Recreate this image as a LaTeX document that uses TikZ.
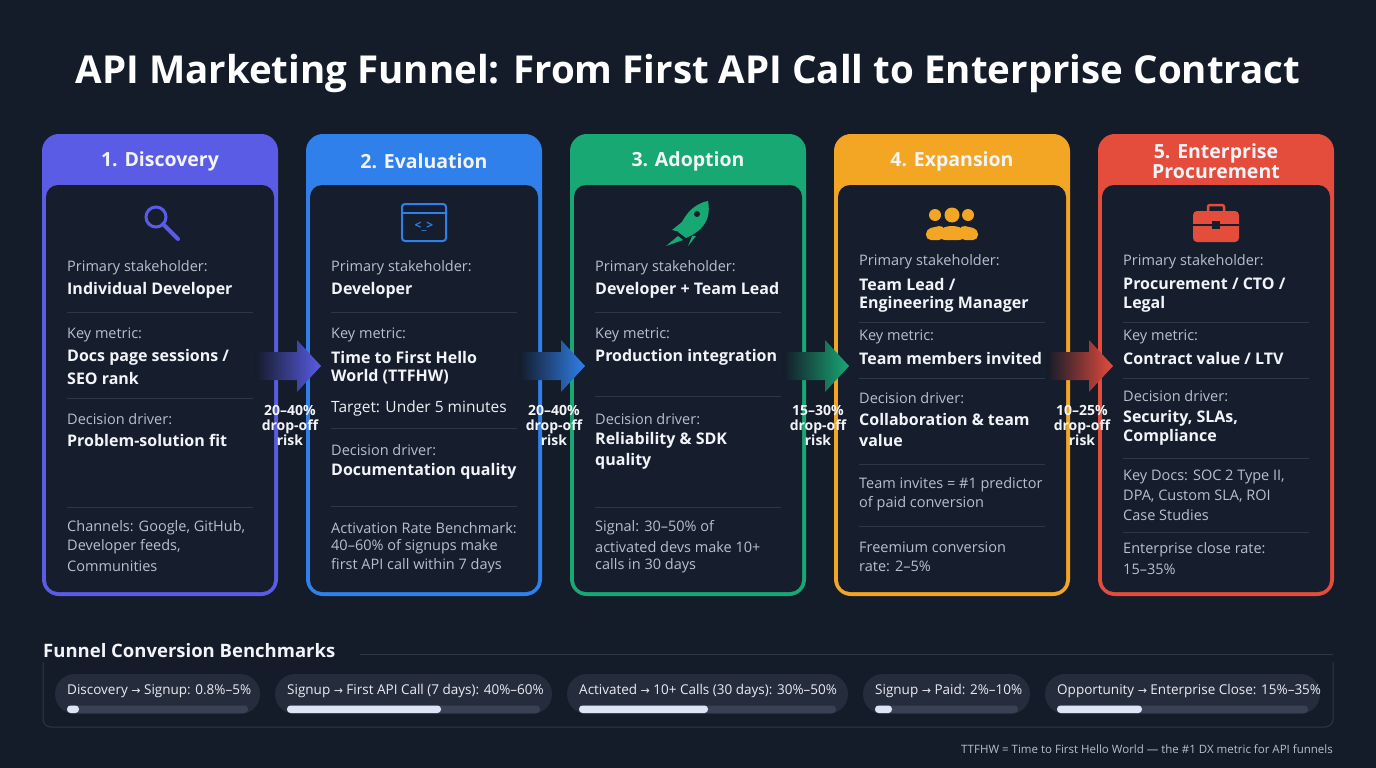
\documentclass[tikz,border=0pt]{standalone}
\usepackage{fontspec}
\setmainfont{Open Sans}
\newfontfamily\symfont{DejaVu Sans}
\usetikzlibrary{positioning,shapes.arrows}
\definecolor{bg}{HTML}{141B29}
\definecolor{panel}{HTML}{161E2E}
\definecolor{cdisc}{HTML}{5A5CE6}
\definecolor{ceval}{HTML}{2F80EA}
\definecolor{cadop}{HTML}{18A874}
\definecolor{cexp}{HTML}{F2A623}
\definecolor{cent}{HTML}{E44C3C}
\definecolor{txt}{HTML}{F2F4F8}
\definecolor{sub}{HTML}{B9C0CC}
\definecolor{rule}{HTML}{2E3748}
\definecolor{pill}{HTML}{252D3D}
\definecolor{track}{HTML}{394254}
\definecolor{barc}{HTML}{DCE4F6}
\newcommand{\toarr}{{\symfont\fontsize{11}{13}\selectfont →}}
\tikzset{
  lab/.style={anchor=west,inner sep=0pt,text=sub,font=\fontsize{14.5}{17}\selectfont},
  val/.style={anchor=west,inner sep=0pt,text=txt,font=\fontsize{16}{19}\selectfont\bfseries},
  head/.style={inner sep=0pt,text=txt,align=center,font=\fontsize{19.5}{21}\selectfont\bfseries},
  drop/.style={inner sep=0pt,text=txt,align=center,font=\fontsize{14}{17}\selectfont\bfseries},
  sep/.style={draw=rule,line width=1pt},
  ptxt/.style={anchor=west,inner sep=0pt,text=txt!85!sub,font=\fontsize{13.5}{16}\selectfont},
}
\newcommand{\mkcard}[2]{%
  \fill[#2,rounded corners=16pt] (#1,135) rectangle ++(234,460);
  \fill[panel,rounded corners=12pt] (#1+3,185) rectangle ++(228,407);
  \draw[#2,line width=2pt,rounded corners=16pt] (#1,135) rectangle ++(234,460);}
\newcommand{\mkarrow}[3]{%
  \shade[left color=bg,right color=#3] (#1,352) -- (#1+42,352) -- (#1+42,340) -- (#1+66,366)
    -- (#1+42,392) -- (#1+42,380) -- (#1,380) -- cycle;
  \coordinate (#2) at (#1+66,366);}
\begin{document}
\begin{tikzpicture}[x=1pt,y=-1pt]
\fill[bg] (0,0) rectangle (1376,768);
\useasboundingbox (0,0) rectangle (1376,768);

\node[inner sep=0pt,text=white,font=\fontsize{38.5}{42}\selectfont\bfseries] (title) at (688,73)
  {API Marketing Funnel: From First API Call to Enterprise Contract};

% cards
\mkcard{43}{cdisc}
\mkcard{307}{ceval}
\mkcard{571}{cadop}
\mkcard{835}{cexp}
\mkcard{1099}{cent}
\node[head] (h1) at (160,161) {1. Discovery};
\node[head] (h2) at (424,161) {2. Evaluation};
\node[head] (h3) at (688,161) {3. Adoption};
\node[head] (h4) at (952,161) {4. Expansion};
\node[head] (h5) at (1216,161) {5. Enterprise\\[-1pt]Procurement};

% icons
\draw[cdisc,line width=3pt] (156,217) circle (10);
\draw[cdisc,line width=4pt,line cap=round] (163,224) -- (178,239);
\draw[ceval,line width=2pt,rounded corners=3pt] (402,204) rectangle (446,241);
\draw[ceval,line width=2pt] (402,213) -- (446,213);
\node[inner sep=0pt,text=ceval,font=\fontsize{12}{12}\selectfont\bfseries] (code) at (424,227) {<\_>};
\fill[cadop] (708,201) .. controls (692,204) and (682,218) .. (678,232) -- (686,238)
  .. controls (700,232) and (712,222) .. (708,201) -- cycle;
\fill[panel] (697,214) circle (3);
\fill[cadop] (682,222) -- (672,230) -- (680,232) -- cycle;
\fill[cadop] (692,236) -- (688,246) -- (696,236) -- cycle;
\fill[cadop] (678,236) -- (666,246) -- (683,240) -- cycle;
\foreach \px/\r in {935/6,968/6,952/7.5}{
  \fill[cexp] (\px,215) circle (\r);}
\fill[cexp,rounded corners=5pt] (926,240) -- (926,229) -- (944,225) -- (944,240) -- cycle;
\fill[cexp,rounded corners=5pt] (978,240) -- (978,229) -- (960,225) -- (960,240) -- cycle;
\fill[cexp,rounded corners=6pt] (939,240) -- (939,229) -- (952,225) -- (965,229) -- (965,240) -- cycle;
\draw[cent,line width=2.5pt,rounded corners=2pt] (1208,212) -- (1208,205) -- (1224,205) -- (1224,212);
\fill[cent,rounded corners=4pt] (1193,211) rectangle (1239,242);
\fill[panel] (1193,224) rectangle (1239,226);
\fill[panel] (1212,221) rectangle (1220,229);

% card 1
\node[lab] (p1) at (67,268) {Primary stakeholder:};
\node[val] (pv1) at (67,290) {Individual Developer};
\draw[sep] (67,312) -- (253,312);
\node[lab] (k1) at (67,335) {Key metric:};
\node[val] (kv1) at (67,357) {Docs page sessions /};
\node[val] (kv1b) at (67,378) {SEO rank};
\draw[sep] (67,398) -- (253,398);
\node[lab] (d1) at (67,419) {Decision driver:};
\node[val] (dv1) at (67,440) {Problem-solution fit};
\draw[sep] (67,507) -- (253,507);
\node[lab] (c1) at (67,528) {Channels: Google, GitHub,};
\node[lab] (c1b) at (67,547) {Developer feeds,};
\node[lab] (c1c) at (67,566) {Communities};

% card 2
\node[lab] (p2) at (331,268) {Primary stakeholder:};
\node[val] (pv2) at (331,290) {Developer};
\draw[sep] (331,312) -- (517,312);
\node[lab] (k2) at (331,335) {Key metric:};
\node[val] (kv2) at (331,357) {Time to First Hello};
\node[val] (kv2b) at (331,377) {World (TTFHW)};
\node[lab,text=txt!90!sub,font=\fontsize{15.5}{18}\selectfont] (t2) at (331,408) {Target: Under 5 minutes};
\draw[sep] (331,428) -- (517,428);
\node[lab] (d2) at (331,450) {Decision driver:};
\node[val] (dv2) at (331,471) {Documentation quality};
\draw[sep] (331,506) -- (517,506);
\node[lab] (a2) at (331,528) {Activation Rate Benchmark:};
\node[lab] (a2b) at (331,547) {40--60\% of signups make};
\node[lab] (a2c) at (331,566) {first API call within 7 days};

% card 3
\node[lab] (p3) at (595,268) {Primary stakeholder:};
\node[val] (pv3) at (595,290) {Developer + Team Lead};
\draw[sep] (595,312) -- (781,312);
\node[lab] (k3) at (595,335) {Key metric:};
\node[val] (kv3) at (595,357) {Production integration};
\draw[sep] (595,396) -- (781,396);
\node[lab] (d3) at (595,419) {Decision driver:};
\node[val] (dv3) at (595,440) {Reliability \& SDK};
\node[val] (dv3b) at (595,461) {quality};
\draw[sep] (595,507) -- (781,507);
\node[lab] (s3) at (595,528) {Signal: 30--50\% of};
\node[lab] (s3b) at (595,547) {activated devs make 10+};
\node[lab] (s3c) at (595,566) {calls in 30 days};

% card 4
\node[lab] (p4) at (859,262) {Primary stakeholder:};
\node[val] (pv4) at (859,284) {Team Lead /};
\node[val] (pv4b) at (859,304) {Engineering Manager};
\draw[sep] (859,322) -- (1045,322);
\node[lab] (k4) at (859,337) {Key metric:};
\node[val] (kv4) at (859,358) {Team members invited};
\draw[sep] (859,378) -- (1045,378);
\node[lab] (d4) at (859,398) {Decision driver:};
\node[val] (dv4) at (859,419) {Collaboration \& team};
\node[val] (dv4b) at (859,440) {value};
\draw[sep] (859,464) -- (1045,464);
\node[lab] (i4) at (859,485) {Team invites = \#1 predictor};
\node[lab] (i4b) at (859,504) {of paid conversion};
\draw[sep] (859,526) -- (1045,526);
\node[lab] (f4) at (859,547) {Freemium conversion};
\node[lab] (f4b) at (859,566) {rate: 2--5\%};

% card 5
\node[lab] (p5) at (1123,262) {Primary stakeholder:};
\node[val] (pv5) at (1123,284) {Procurement / CTO /};
\node[val] (pv5b) at (1123,304) {Legal};
\draw[sep] (1123,322) -- (1309,322);
\node[lab] (k5) at (1123,337) {Key metric:};
\node[val] (kv5) at (1123,358) {Contract value / LTV};
\draw[sep] (1123,378) -- (1309,378);
\node[lab] (d5) at (1123,396) {Decision driver:};
\node[val] (dv5) at (1123,418) {Security, SLAs,};
\node[val] (dv5b) at (1123,437) {Compliance};
\draw[sep] (1123,458) -- (1309,458);
\node[lab] (e5) at (1123,477) {Key Docs: SOC 2 Type II,};
\node[lab] (e5b) at (1123,496) {DPA, Custom SLA, ROI};
\node[lab] (e5c) at (1123,515) {Case Studies};
\draw[sep] (1123,532) -- (1309,532);
\node[lab] (r5) at (1123,550) {Enterprise close rate:};
\node[lab] (r5b) at (1123,569) {15--35\%};

% arrows between stages
\mkarrow{255}{a1}{cdisc}
\mkarrow{519}{a2}{ceval}
\mkarrow{783}{a3}{cadop}
\shade[left color=bg,right color=cent] (1047,352) -- (1089,352) -- (1089,340) -- (1113,366)
  -- (1089,392) -- (1089,380) -- (1047,380) -- cycle;
\node[drop] (r1) at (290,425) {20--40\%\\[-2pt]drop-off\\[-2pt]risk};
\node[drop] (r2) at (554,425) {20--40\%\\[-2pt]drop-off\\[-2pt]risk};
\node[drop] (r3) at (818,425) {15--30\%\\[-2pt]drop-off\\[-2pt]risk};
\node[drop] (r4) at (1082,425) {10--25\%\\[-2pt]drop-off\\[-2pt]risk};

% benchmarks
\node[anchor=west,inner sep=0pt,text=txt,font=\fontsize{18.5}{20}\selectfont\bfseries] (bench) at (43,651)
  {Funnel Conversion Benchmarks};
\draw[rule,line width=1pt] (360,654) -- (1333,654);
\draw[rule,line width=1pt,rounded corners=8pt] (43,662) -- (43,727) -- (1333,727) -- (1333,662);
\foreach \xa/\xb/\xf/\t in {55/260/79/{Discovery \toarr{} Signup: 0.8\%--5\%},
    275/552/441/{Signup \toarr{} First API Call (7 days): 40\%--60\%},
    567/848/708/{Activated \toarr{} 10+ Calls (30 days): 30\%--50\%},
    863/1030/892/{Signup \toarr{} Paid: 2\%--10\%},
    1045/1320/1142/{Opportunity \toarr{} Enterprise Close: 15\%--35\%}}{
  \fill[pill,rounded corners=20pt] (\xa,674) rectangle (\xb,714);
  \fill[track,rounded corners=3.5pt] (\xa+12,705.5) rectangle (\xb-12,713);
  \fill[barc,rounded corners=3.5pt] (\xa+12,705.5) rectangle (\xf,713);
  \node[ptxt] at (\xa+12,691) {\t};}

\node[anchor=east,inner sep=0pt,text=sub,font=\fontsize{11.5}{13}\selectfont] (note) at (1333,749)
  {TTFHW = Time to First Hello World --- the \#1 DX metric for API funnels};
\end{tikzpicture}
\end{document}
